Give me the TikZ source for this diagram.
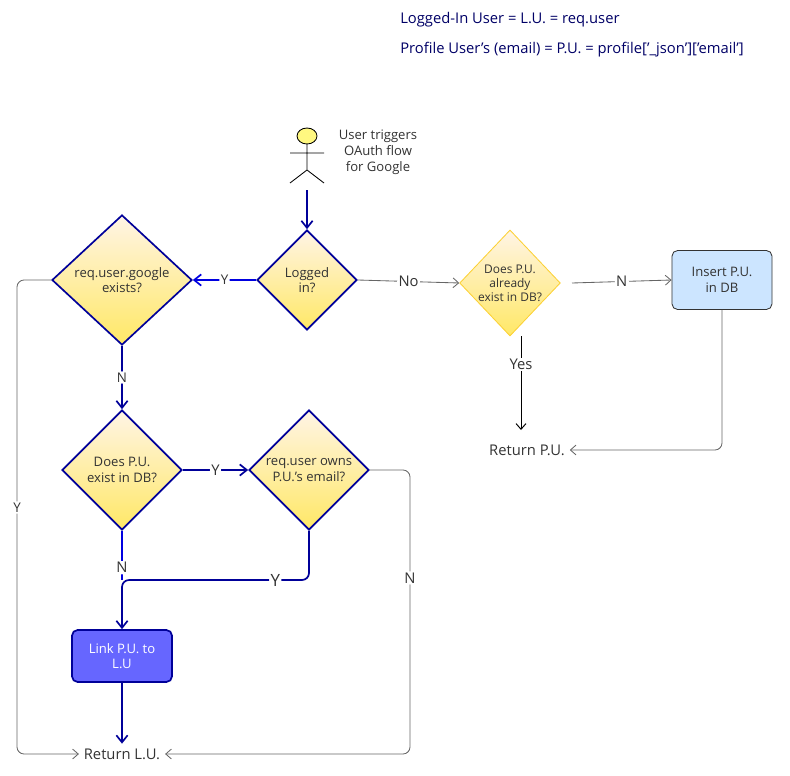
\documentclass[tikz,border=0pt]{standalone}
\usepackage{fontspec}
\setmainfont{Open Sans}
\usetikzlibrary{shapes.geometric,arrows.meta,positioning}
\definecolor{navy}{HTML}{000099}
\definecolor{legnavy}{HTML}{000066}
\definecolor{ink}{HTML}{333333}
\definecolor{gline}{HTML}{666666}
\definecolor{linkblue}{HTML}{6666FF}
\definecolor{insblue}{HTML}{CCE5FF}
\tikzset{
  decision/.style={diamond, draw=#1, line width=1.2pt, top color=yellow!15!orange!10, bottom color=yellow!70!orange!60, inner sep=0pt, aspect=1, font=\fontsize{9.3}{11}\selectfont, text=ink, align=center},
  decision/.default=navy,
  flow/.style={draw=navy, line width=1.2pt, -{Straight Barb[length=5pt,width=8pt]}, rounded corners=5pt},
  grayflow/.style={draw=gline, line width=0.6pt, -{Straight Barb[length=4pt,width=7pt]}, rounded corners=5pt},
  lbl/.style={fill=white, inner sep=1pt, text=ink, font=\fontsize{9.5}{10}\selectfont},
  terminal/.style={text=ink, font=\fontsize{10.5}{12}\selectfont}
}
\begin{document}
\begin{tikzpicture}[x=0.025cm, y=-0.025cm]
  \useasboundingbox (0,0) rectangle (790,776);
  % legend
  \node[anchor=west, inner sep=0pt, text=legnavy, font=\fontsize{10.5}{12}\selectfont] (legA) at (400,20) {Logged-In User = L.U. = req.user};
  \node[anchor=west, inner sep=0pt, text=legnavy, font=\fontsize{10.5}{12}\selectfont] (legB) at (400,50) {Profile User's (email) = P.U. = profile['\_json']['email']};
  % actor
  \draw[fill=yellow!50, draw=black, line width=0.6pt] (307,136) ellipse (10 and 8);
  \draw[line width=0.6pt] (307,144) -- (307,170) (290,153) -- (324,153) (290,183) -- (307,170) -- (324,183);
  \node[terminal, align=center, font=\fontsize{9.3}{11.5}\selectfont] (actor) at (378,152) {User triggers\\OAuth flow\\for Google};
  \coordinate (actorfoot) at (307,190);
  % decisions
  \node[decision, minimum width=2.5cm, minimum height=2.5cm] (logged) at (307,280) {Logged\\in?};
  \node[decision, minimum width=3.5cm, minimum height=3.25cm] (google) at (122,280) {req.user.google\\exists?};
  \node[decision, minimum width=3cm, minimum height=3cm] (exists) at (122,470) {Does P.U.\\exist in DB?};
  \node[decision, minimum width=3cm, minimum height=3cm] (owns) at (309,470) {req.user owns\\P.U.'s email?};
  \node[decision=yellow!60!orange!80, line width=0.6pt, minimum width=2.5cm, minimum height=2.65cm, font=\fontsize{8.5}{10}\selectfont] (already) at (510,283) {Does P.U.\\already\\exist in DB?};
  \coordinate (pufoot) at (521,430);
  % boxes
  \node[draw=ink, fill=insblue, rounded corners=4pt, line width=0.6pt, minimum width=2.5cm, minimum height=1.475cm, align=center, text=ink, font=\fontsize{9.3}{11}\selectfont] (insert) at (722,280) {Insert P.U.\\in DB};
  \node[draw=navy, fill=linkblue, rounded corners=4pt, line width=1.2pt, minimum width=2.5cm, minimum height=1.3cm, align=center, text=white, font=\fontsize{9.3}{11}\selectfont] (link) at (122,656) {Link P.U. to\\L.U};
  \node[terminal] (retpu) at (527,450) {Return P.U.};
  \node[terminal] (retlu) at (122,754) {Return L.U.};
  % connectors
  \draw[flow] (actorfoot) -- (logged.north);
  \draw[flow, draw=blue!70!navy] (logged.west) -- node[lbl] {Y} (google.east);
  \draw[grayflow] (logged.east) -- node[lbl, font=\fontsize{10.5}{11}\selectfont] {No} (already.west);
  \draw[grayflow] ([xshift=8pt]already.east) -- node[lbl, font=\fontsize{10.5}{11}\selectfont] {N} (insert.west);
  \draw[draw=black, line width=0.7pt, -{Straight Barb[length=4pt,width=7pt]}] (already.south -| pufoot) -- node[lbl, pos=0.3, font=\fontsize{10.5}{11}\selectfont] {Yes} (pufoot);
  \draw[grayflow] (insert.south) |- (retpu.east);
  \draw[grayflow] (google.west) -- (17,280) |- node[lbl, pos=0.24] {Y} (retlu.west);
  \draw[flow] (google.south) -- node[lbl] {N} (exists.north);
  \draw[flow] (exists.east) -- node[lbl, font=\fontsize{10.5}{11}\selectfont] {Y} (owns.west);
  \draw[flow, draw=blue!70!navy, -] (exists.south) -- node[lbl, pos=0.75, font=\fontsize{10.5}{11}\selectfont] {N} (122,580);
  \draw[flow] (owns.south) -- (309,580) -- node[lbl, pos=0.18, font=\fontsize{12}{13}\selectfont] {Y} (122,580) -- (link.north);
  \draw[grayflow] (owns.east) -- (410,470) |- node[lbl, pos=0.19, font=\fontsize{10.5}{11}\selectfont] {N} (retlu.east);
  \draw[flow] (link.south) -- (retlu.north);
\end{tikzpicture}
\end{document}
